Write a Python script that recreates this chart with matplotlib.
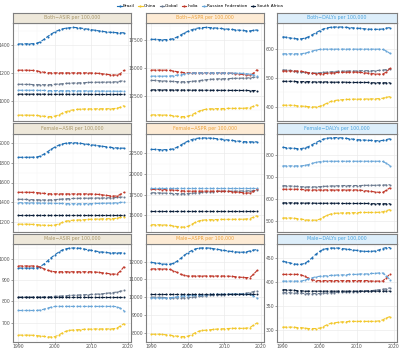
import matplotlib
matplotlib.use('Agg')
import matplotlib.pyplot as plt
from matplotlib.lines import Line2D

# years 1990-2019
years = list(range(1990, 2020))

countries = ['Brazil', 'China', 'Global', 'India', 'Russian Federation', 'South Africa']
colors = ['#1F6FB5', '#F2C72B', '#6B7A8F', '#C0392B', '#6AA6D8', '#0B1F3A']

# ---- Both ----
both_asir = {
    'Brazil': [1407,1407,1408,1408,1409,1412,1422,1440,1460,1478,1493,1505,1514,1520,1523,1525,1524,1521,1517,1513,1509,1505,1501,1497,1494,1491,1489,1488,1487,1487],
    'China': [897,897,897,897,896,895,892,889,887,887,890,898,910,922,930,935,938,940,941,942,942,942,943,943,943,943,944,946,954,965],
    'Global': [1118,1118,1117,1117,1116,1116,1115,1115,1115,1116,1118,1120,1122,1124,1126,1127,1128,1129,1130,1131,1132,1132,1133,1133,1134,1134,1135,1136,1140,1145],
    'India': [1219,1219,1219,1218,1217,1214,1209,1204,1201,1200,1200,1200,1200,1200,1200,1200,1200,1200,1200,1200,1199,1198,1196,1193,1190,1187,1185,1184,1195,1219],
    'Russian Federation': [1075,1075,1075,1075,1075,1074,1074,1074,1073,1073,1073,1073,1072,1072,1072,1072,1071,1071,1071,1071,1070,1070,1070,1070,1069,1069,1069,1068,1068,1068],
    'South Africa': [1047,1047,1047,1047,1047,1047,1047,1047,1046,1046,1046,1046,1046,1046,1046,1046,1046,1046,1046,1046,1045,1045,1045,1045,1045,1045,1045,1045,1045,1045],
}
both_aspr = {
    'Brazil': [17560,17550,17540,17530,17530,17550,17620,17760,17940,18120,18280,18410,18510,18580,18610,18620,18610,18590,18560,18530,18500,18470,18440,18410,18380,18350,18320,18310,18360,18400],
    'China': [10790,10790,10790,10780,10770,10750,10710,10670,10640,10640,10680,10790,10950,11110,11230,11300,11330,11340,11350,11360,11360,11370,11370,11370,11380,11380,11400,11440,11560,11700],
    'Global': [13880,13870,13860,13840,13820,13800,13780,13770,13760,13760,13770,13790,13820,13860,13900,13940,13970,13990,14010,14020,14030,14040,14050,14060,14070,14080,14090,14110,14150,14200],
    'India': [14800,14800,14800,14800,14790,14770,14720,14660,14610,14580,14560,14560,14560,14560,14560,14560,14560,14560,14560,14560,14550,14540,14520,14490,14450,14410,14370,14350,14500,14850],
    'Russian Federation': [14260,14260,14260,14260,14260,14270,14300,14350,14400,14450,14500,14540,14560,14560,14560,14560,14560,14560,14560,14560,14550,14550,14540,14530,14520,14500,14480,14450,14380,14260],
    'South Africa': [13030,13030,13030,13025,13025,13020,13020,13015,13015,13010,13010,13005,13005,13000,13000,12995,12995,12990,12990,12985,12985,12980,12980,12980,12975,12975,12975,12970,12970,12970],
}
both_daly = {
    'Brazil': [643,641,639,637,636,636,638,643,650,657,664,670,674,676,677,677,677,676,675,674,673,672,671,670,669,669,669,670,673,675],
    'China': [405,405,405,404,403,402,401,400,399,399,401,406,412,418,421,423,424,425,425,426,426,426,426,427,427,427,428,429,432,435],
    'Global': [528,527,526,524,522,520,519,518,517,517,518,519,520,521,522,523,523,524,524,524,524,525,525,525,525,525,526,527,529,532],
    'India': [524,524,524,524,524,523,521,518,516,515,515,515,516,517,518,519,519,520,520,520,520,519,518,516,515,514,513,513,520,533],
    'Russian Federation': [584,584,584,584,584,584,586,589,593,597,599,600,600,600,600,600,600,600,600,600,600,600,600,600,600,600,600,599,594,585],
    'South Africa': [488,488,488,488,487,487,487,487,486,486,486,486,486,485,485,485,485,485,484,484,484,484,484,484,483,483,483,483,483,483],
}

# ---- Female ----
female_asir = {
    'Brazil': [1857,1857,1857,1858,1858,1860,1870,1890,1915,1940,1962,1980,1993,2001,2005,2006,2004,2000,1995,1990,1985,1980,1975,1970,1965,1960,1956,1953,1951,1950],
    'China': [1175,1175,1175,1174,1172,1170,1167,1164,1162,1162,1166,1177,1192,1205,1212,1215,1217,1219,1221,1223,1225,1226,1228,1229,1230,1231,1232,1235,1243,1253],
    'Global': [1429,1428,1427,1426,1425,1424,1423,1422,1422,1423,1425,1428,1431,1434,1436,1437,1438,1439,1440,1440,1441,1441,1442,1442,1443,1444,1445,1447,1450,1453],
    'India': [1500,1500,1500,1500,1499,1497,1493,1489,1486,1484,1484,1484,1484,1484,1484,1484,1484,1484,1484,1484,1483,1481,1478,1474,1469,1465,1462,1462,1478,1500],
    'Russian Federation': [1394,1394,1393,1393,1392,1392,1391,1390,1389,1388,1387,1386,1386,1385,1385,1384,1384,1384,1384,1385,1385,1386,1387,1388,1389,1390,1391,1393,1396,1400],
    'South Africa': [1267,1267,1267,1267,1267,1267,1267,1267,1267,1267,1267,1267,1267,1267,1267,1267,1267,1267,1267,1267,1267,1267,1267,1267,1267,1267,1267,1267,1267,1267],
}
female_aspr = {
    'Brazil': [22970,22960,22950,22940,22940,22960,23040,23230,23480,23740,23970,24150,24270,24330,24350,24350,24330,24300,24260,24210,24160,24110,24060,24010,23960,23920,23890,23880,23880,23880],
    'China': [13870,13870,13870,13860,13830,13790,13730,13650,13590,13590,13680,13900,14150,14330,14420,14460,14480,14490,14500,14510,14510,14520,14520,14530,14530,14540,14560,14610,14780,14960],
    'Global': [17740,17730,17720,17700,17680,17660,17640,17630,17620,17620,17640,17670,17710,17750,17790,17820,17850,17870,17890,17900,17910,17920,17930,17930,17940,17950,17960,17970,17990,18010],
    'India': [18130,18130,18130,18120,18110,18090,18060,18020,17980,17950,17930,17930,17930,17930,17930,17930,17930,17930,17930,17930,17920,17900,17870,17830,17790,17750,17710,17700,17900,18200],
    'Russian Federation': [18290,18290,18290,18290,18290,18290,18290,18290,18290,18290,18290,18290,18290,18290,18290,18290,18290,18290,18290,18290,18290,18290,18290,18290,18290,18290,18290,18290,18290,18290],
    'South Africa': [15570,15570,15570,15570,15570,15570,15570,15570,15570,15570,15570,15570,15570,15570,15570,15570,15570,15570,15570,15570,15570,15570,15570,15570,15570,15570,15570,15570,15570,15570],
}
female_daly = {
    'Brazil': [835,833,831,830,829,829,832,838,847,856,865,872,876,878,879,879,878,876,874,872,870,869,868,867,866,865,865,866,870,874],
    'China': [512,512,512,511,509,507,504,502,502,502,506,515,524,530,533,534,535,535,536,536,536,537,537,537,537,537,538,540,545,550],
    'Global': [660,659,658,657,656,655,654,654,654,654,655,656,657,658,659,659,660,660,660,660,660,660,661,661,661,661,662,662,663,664],
    'India': [643,643,643,643,643,642,641,640,640,640,640,640,640,640,640,640,640,640,640,640,640,639,637,635,633,631,629,629,638,650],
    'Russian Federation': [750,750,750,750,750,750,752,756,761,766,769,771,771,771,771,771,771,771,771,771,771,771,771,771,771,771,771,770,762,751],
    'South Africa': [581,581,581,581,580,580,580,580,580,579,579,579,579,579,579,579,578,578,578,578,578,578,578,578,577,577,577,577,577,577],
}

# ---- Male ----
male_asir = {
    'Brazil': [956,956,956,956,956,957,963,975,990,1005,1018,1030,1040,1046,1049,1050,1050,1048,1045,1042,1039,1036,1033,1031,1029,1027,1027,1027,1027,1027],
    'China': [643,643,643,643,642,641,639,637,635,634,636,643,653,661,665,667,668,669,670,671,671,672,672,672,672,672,673,675,686,697],
    'Global': [821,821,821,821,821,821,821,822,822,823,824,825,826,827,828,829,830,831,832,832,833,834,835,836,838,840,842,844,848,852],
    'India': [966,966,966,966,966,965,960,953,946,941,939,939,939,939,939,939,939,939,939,939,939,938,936,934,932,930,928,928,942,963],
    'Russian Federation': [758,758,758,758,758,758,760,764,769,774,777,777,777,777,777,777,777,777,777,777,777,777,777,777,777,777,777,776,768,757],
    'South Africa': [821,821,821,821,821,821,821,821,821,821,821,821,821,821,821,821,821,821,821,821,821,821,821,821,821,821,821,821,821,821],
}
male_aspr = {
    'Brazil': [11950,11930,11900,11870,11850,11850,11900,12020,12180,12350,12500,12620,12710,12760,12770,12770,12760,12730,12700,12660,12630,12600,12570,12550,12530,12530,12550,12600,12650,12680],
    'China': [7910,7910,7910,7900,7880,7860,7830,7800,7780,7780,7800,7880,7990,8080,8120,8140,8160,8180,8200,8210,8220,8230,8240,8240,8240,8240,8250,8280,8420,8550],
    'Global': [10000,9995,9990,9980,9970,9965,9960,9960,9960,9960,9970,9990,10010,10040,10060,10080,10100,10110,10120,10130,10140,10150,10160,10170,10180,10200,10220,10250,10310,10370],
    'India': [11590,11590,11590,11590,11580,11560,11490,11390,11290,11220,11190,11190,11190,11190,11190,11190,11190,11190,11190,11190,11190,11180,11170,11150,11130,11110,11100,11100,11280,11500],
    'Russian Federation': [9950,9950,9950,9950,9950,9955,9980,10020,10060,10080,10090,10100,10110,10120,10130,10140,10150,10150,10160,10160,10160,10170,10170,10170,10170,10170,10170,10160,10070,9950],
    'South Africa': [10180,10180,10180,10180,10180,10180,10180,10180,10180,10180,10180,10180,10180,10180,10180,10180,10180,10180,10180,10180,10180,10180,10180,10180,10180,10180,10180,10180,10180,10180],
}
male_daly = {
    'Brazil': [442,441,439,437,436,436,438,443,450,457,463,467,469,470,470,470,469,468,467,466,465,464,463,463,463,464,466,469,471,471],
    'China': [305,305,305,305,304,304,303,302,302,302,303,306,310,313,314,315,316,316,317,317,317,317,317,317,317,317,318,320,324,327],
    'Global': [377,377,377,376,376,376,375,375,375,375,375,376,376,377,377,378,378,378,379,379,379,380,380,381,381,382,383,384,385,387],
    'India': [415,415,415,415,415,414,411,407,404,402,402,402,402,402,402,402,402,402,402,402,402,402,402,402,401,401,401,401,408,416],
    'Russian Federation': [401,401,401,401,401,401,403,406,408,410,411,412,412,413,413,414,414,414,415,415,415,416,416,416,417,417,418,418,412,404],
    'South Africa': [383,383,382,382,381,381,380,380,380,380,380,380,380,380,380,380,380,380,380,380,380,380,380,380,380,380,380,380,380,380],
}

panel_data = [[both_asir, both_aspr, both_daly],
              [female_asir, female_aspr, female_daly],
              [male_asir, male_aspr, male_daly]]
row_names = ['Both', 'Female', 'Male']
col_names = ['ASIR per 100,000', 'ASPR per 100,000', "DALYs per 100,000"]
y_ticks = [[[1000, 1200, 1400], [12500, 15000, 17500], [400, 500, 600]],
           [[1200, 1400, 1600, 1800, 2000], [15000, 17500, 20000, 22500], [500, 600, 700, 800]],
           [[700, 800, 900, 1000], [8000, 9000, 10000, 11000, 12000], [300, 350, 400, 450]]]
x_ticks = [1990, 2000, 2010, 2020]

strip_face = ['#EEE8DA', '#FDEBD5', '#DDEEFA']
strip_text = ['#A8976A', '#EBA33F', '#4BA3DD']

W, H = 400, 349
fig = plt.figure(figsize=(W / 100, H / 100), dpi=100)

col_x = [(13, 131), (146, 264), (277, 397)]
row_y = [(13, 23, 121), (123.5, 133.5, 231.5), (233.5, 243.5, 341.5)]


def px(x0, y0, x1, y1):
    return [x0 / W, 1 - y1 / H, (x1 - x0) / W, (y1 - y0) / H]


for r in range(3):
    for c in range(3):
        x0, x1 = col_x[c]
        st, pt, pb = row_y[r]
        ax = fig.add_axes(px(x0, pt, x1, pb))
        data = panel_data[r][c]
        for name, col in zip(countries, colors):
            ax.plot(years, data[name], color=col, lw=0.8, ls='--', marker='o',
                    ms=1.5, mew=0, zorder=3)
        allv = [v for name in countries for v in data[name]]
        lo, hi = min(allv), max(allv)
        pad = (hi - lo) * 0.05
        ax.set_ylim(lo - pad, hi + pad)
        ax.set_xlim(1988.5, 2020.9)
        ax.set_xticks(x_ticks)
        ax.set_xticks([1995, 2005, 2015], minor=True)
        yt = y_ticks[r][c]
        ax.set_yticks(yt)
        step = yt[1] - yt[0]
        ax.set_yticks([t + step / 2 for t in [yt[0] - step] + yt], minor=True)
        ax.grid(which='major', color='#EBEBEB', lw=0.5)
        ax.grid(which='minor', color='#F4F4F4', lw=0.3)
        ax.set_axisbelow(True)
        ax.tick_params(which='major', labelsize=3.3, length=1.2, width=0.4,
                       colors='#555555', pad=0.8)
        ax.tick_params(which='minor', length=0)
        if r < 2:
            ax.tick_params(axis='x', labelbottom=False, length=0)
        for s in ax.spines.values():
            s.set_color('#7F7F7F')
            s.set_linewidth(0.8)
        # strip
        sax = fig.add_axes(px(x0, st, x1, pt))
        sax.set_facecolor(strip_face[c])
        sax.set_xticks([])
        sax.set_yticks([])
        for s in sax.spines.values():
            s.set_color('#7F7F7F')
            s.set_linewidth(0.8)
        sax.text(0.5, 0.5, row_names[r] + '\u2212' + col_names[c],
                 transform=sax.transAxes, ha='center', va='center',
                 fontsize=3.4, color=strip_text[c])

handles = [Line2D([0], [0], color=col, lw=0.8, marker='o', ms=1.6, mew=0)
           for col in colors]
fig.legend(handles, countries, loc='center', bbox_to_anchor=(0.5, 1 - 6 / H),
           ncol=6, frameon=False, fontsize=3.1, handlelength=1.0,
           columnspacing=0.8, handletextpad=0.3)

fig.savefig('out.png', dpi=100)
